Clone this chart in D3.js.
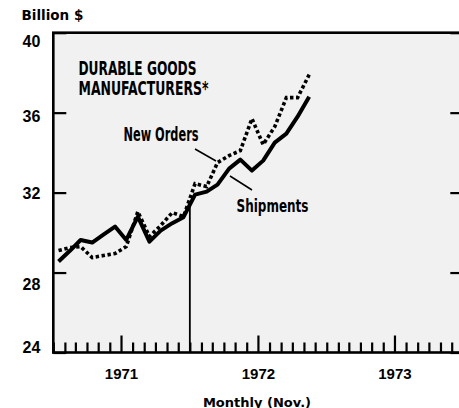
<!DOCTYPE html>
<html>
<head>
<meta charset="utf-8">
<script src="https://cdn.jsdelivr.net/npm/d3@7"></script>
<style>
  body { margin: 0; background: #fff; }
  svg { display: block; }
</style>
</head>
<body>
<div id="container"></div>
<script>

// monthly data, Jan 1971 - Nov 1972 (billion $)
var months = ["1971-01","1971-02","1971-03","1971-04","1971-05","1971-06",
  "1971-07","1971-08","1971-09","1971-10","1971-11","1971-12",
  "1972-01","1972-02","1972-03","1972-04","1972-05","1972-06",
  "1972-07","1972-08","1972-09","1972-10","1972-11"];

var shipments = [28.55, 29.1, 29.63, 29.5, 29.9, 30.3, 29.63, 30.8, 29.55, 30.1, 30.47, 30.77,
  31.9, 32.05, 32.4, 33.2, 33.65, 33.1, 33.6, 34.5, 34.95, 35.8, 36.8];

var newOrders = [29.1, 29.25, 29.3, 28.75, 28.85, 28.95, 29.3, 31.05, 29.8, 30.35, 31.0, 30.8,
  32.45, 32.3, 33.5, 33.85, 34.1, 35.7, 34.4, 35.3, 36.75, 36.75, 37.9];

var yTicks = [24, 28, 32, 36, 40];
var yearLabels = ["1971", "1972", "1973"];
var markerDate = "1972-01";   // vertical reference line

var title = ["DURABLE GOODS", "MANUFACTURERS*"];

var width = 459, height = 408;

var parseMonth = d3.timeParse("%Y-%m");
function midMonth(s) {
  var d = parseMonth(s);
  return new Date(d.getFullYear(), d.getMonth(), 15);
}

var svg = d3.select("div#container")
  .append("svg")
  .attr("width", width)
  .attr("height", height)
  .attr("viewBox", "0 0 " + width + " " + height);

var x = d3.scaleTime()
  .domain([new Date(1971, 0, 1), new Date(1974, 0, 1)])
  .range([53.3, 463.3]);

var y = d3.scaleLinear()
  .domain([24, 40])
  .range([352.5, 32.7]);

var x0 = x.range()[0], x1 = x.range()[1];

// stippled plot background
svg.append("rect")
  .attr("x", x0).attr("y", y(40))
  .attr("width", x1 - x0).attr("height", y(24) - y(40))
  .style("fill", "#f1f1f1");

// monthly ticks on the bottom
var xAxis = svg.append("g")
  .attr("transform", "translate(0," + y(24) + ")")
  .call(d3.axisBottom(x)
    .ticks(d3.timeMonth.every(1))
    .tickSize(-10)
    .tickSizeOuter(0)
    .tickFormat(""));
xAxis.select(".domain").remove();
xAxis.selectAll(".tick line")
  .style("stroke", "#000")
  .style("stroke-width", 2.2)
  .attr("y2", function(d) { return d.getMonth() == 6 ? -17 : -10; });

// year labels centred on mid-year
var yearAxis = svg.append("g")
  .attr("transform", "translate(0," + y(24) + ")")
  .call(d3.axisBottom(x)
    .tickValues(yearLabels.map(function(s) { return new Date(+s, 6, 1); }))
    .tickSize(0)
    .tickPadding(15.5)
    .tickFormat(d3.timeFormat("%Y")));
yearAxis.select(".domain").remove();
yearAxis.selectAll("text")
  .style("font-family", "'Liberation Sans', Arial, sans-serif")
  .style("font-weight", "bold")
  .style("font-size", "15px")
  .style("fill", "#000");

// y axis with inward ticks, labels nudged like the print
var labelNudge = { 24: -6, 28: 11, 32: 0, 36: 3, 40: 8 };
var yAxis = svg.append("g")
  .attr("transform", "translate(" + x0 + ",0)")
  .call(d3.axisLeft(y)
    .tickValues(yTicks)
    .tickSize(-13)
    .tickSizeOuter(0)
    .tickPadding(13));
yAxis.select(".domain").remove();
yAxis.selectAll(".tick line").style("stroke", "#000").style("stroke-width", 2.2);
yAxis.selectAll("text")
  .attr("dy", function(d) { return (labelNudge[d] + 5.7) + "px"; })
  .style("font-family", "'Liberation Sans', Arial, sans-serif")
  .style("font-weight", "bold")
  .style("font-size", "16px")
  .style("fill", "#000");

var yAxisR = svg.append("g")
  .attr("transform", "translate(" + x1 + ",0)")
  .call(d3.axisRight(y)
    .tickValues(yTicks)
    .tickSize(-13)
    .tickSizeOuter(0)
    .tickFormat(""));
yAxisR.select(".domain").remove();
yAxisR.selectAll(".tick line").style("stroke", "#000").style("stroke-width", 2.2);

// frame
svg.append("rect")
  .attr("x", x0).attr("y", y(40))
  .attr("width", x1 - x0).attr("height", y(24) - y(40))
  .style("fill", "none")
  .style("stroke", "#000")
  .style("stroke-width", 2.6);

// vertical marker line up to the shipments curve
var mDate = parseMonth(markerDate);
var shipLine = months.map(function(m, i) { return { date: midMonth(m), v: shipments[i] }; });
var mi = d3.bisector(function(d) { return d.date; }).left(shipLine, mDate);
var a = shipLine[mi - 1], b = shipLine[mi];
var mv = a.v + (b.v - a.v) * (mDate - a.date) / (b.date - a.date);
svg.append("line")
  .attr("x1", x(mDate)).attr("x2", x(mDate))
  .attr("y1", y(24)).attr("y2", y(mv))
  .style("stroke", "#000")
  .style("stroke-width", 1.8);

var line = d3.line()
  .x(function(d) { return x(d.date); })
  .y(function(d) { return y(d.v); });

var orderLine = months.map(function(m, i) { return { date: midMonth(m), v: newOrders[i] }; });

svg.append("path")
  .datum(orderLine)
  .attr("d", line)
  .style("fill", "none")
  .style("stroke", "#000")
  .style("stroke-width", 3.6)
  .style("stroke-dasharray", "3.4,2.6");

svg.append("path")
  .datum(shipLine)
  .attr("d", line)
  .style("fill", "none")
  .style("stroke", "#000")
  .style("stroke-width", 4)
  .style("stroke-linejoin", "round");

// condensed annotation labels
function condensed(txt, tx, ty, len, size) {
  svg.append("text")
    .attr("x", tx).attr("y", ty)
    .attr("textLength", len)
    .attr("lengthAdjust", "spacingAndGlyphs")
    .style("font-family", "'Liberation Sans Narrow', 'DejaVu Sans Condensed', 'Liberation Sans', sans-serif")
    .style("font-weight", "bold")
    .style("font-size", size + "px")
    .style("fill", "#000")
    .text(txt);
}
condensed(title[0], 78.5, 75, 118, 19);
condensed(title[1], 78.5, 95, 130, 19);
condensed("New Orders", 123.5, 141, 75, 19);
condensed("Shipments", 236.5, 212, 72, 18);

// pointer lines
svg.append("line")
  .attr("x1", 195).attr("y1", 149).attr("x2", 216).attr("y2", 161)
  .style("stroke", "#000").style("stroke-width", 1.5);
svg.append("line")
  .attr("x1", 230).attr("y1", 176).attr("x2", 252).attr("y2", 190)
  .style("stroke", "#000").style("stroke-width", 1.5);

// unit and period captions
svg.append("text")
  .attr("x", 21.5).attr("y", 20)
  .style("font-family", "'DejaVu Sans', sans-serif")
  .style("font-weight", "bold")
  .style("font-size", "13.5px")
  .text("Billion $");

svg.append("text")
  .attr("x", 257).attr("y", 406.5)
  .attr("text-anchor", "middle")
  .style("font-family", "'DejaVu Sans', sans-serif")
  .style("font-weight", "bold")
  .style("font-size", "13px")
  .text("Monthly (Nov.)");

</script>
</body>
</html>
